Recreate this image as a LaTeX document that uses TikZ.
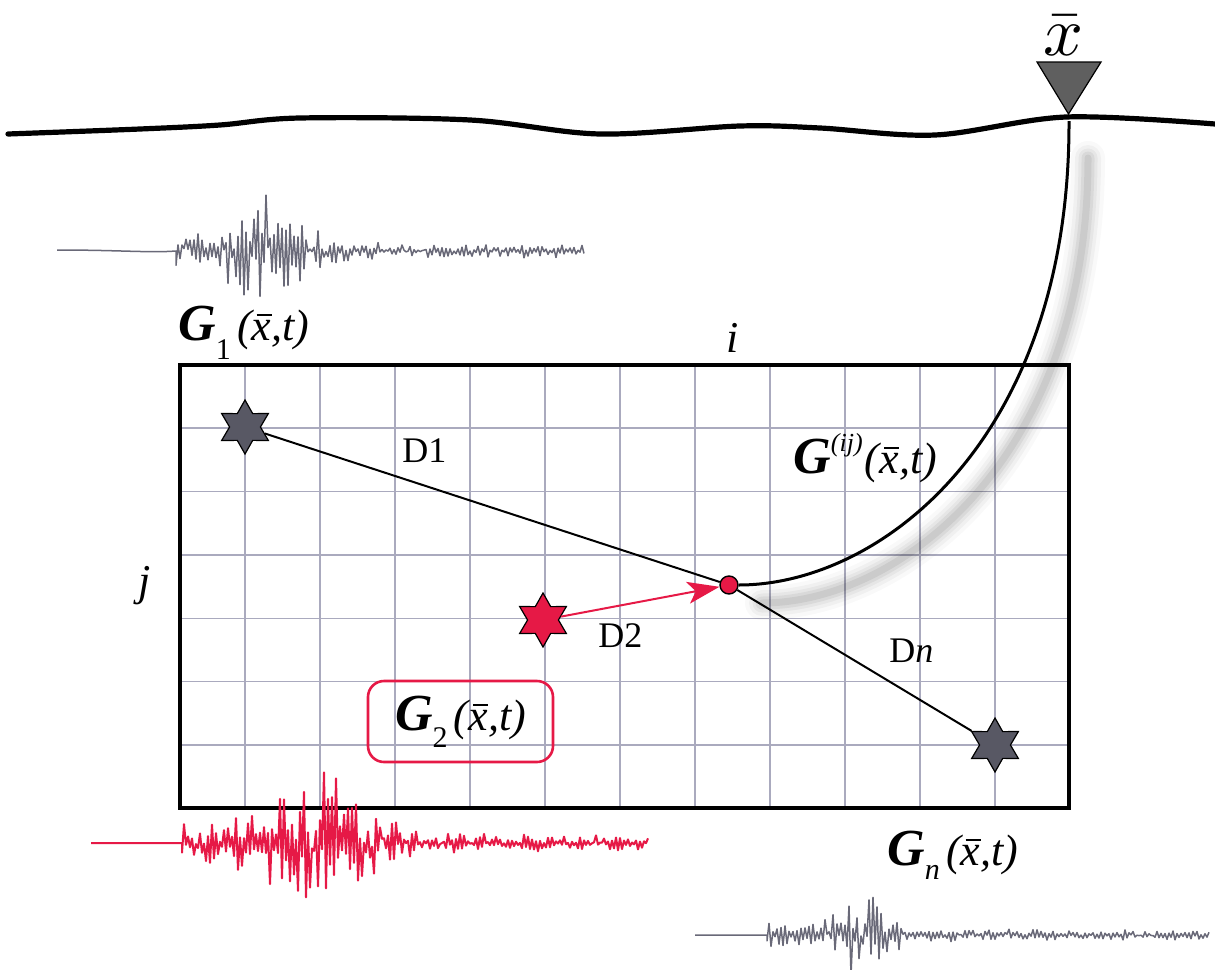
\documentclass[tikz,border=0pt]{standalone}
\usepackage{fontspec}
\setmainfont{Liberation Serif}
\usetikzlibrary{shapes.geometric,arrows.meta}
\definecolor{crim}{RGB}{230,25,70}
\definecolor{gridc}{RGB}{170,170,190}
\definecolor{stargray}{RGB}{88,88,100}
\definecolor{trigray}{RGB}{95,95,95}
\definecolor{seisgray}{RGB}{105,105,120}
\newcommand{\xb}{\leavevmode\rlap{\kern0.11em\raisebox{0.55em}{\rule{0.34em}{0.05em}}}x}
\newcommand{\mkG}[1]{{\fontsize{26}{27}\selectfont\bfseries\itshape G}#1\textit{(\xb,t)}}
\newcommand{\subG}[2][-0.45em]{\raisebox{#1}{\fontsize{15}{15}\selectfont #2}\kern0.14em}
\newcommand{\supG}[1]{\raisebox{0.5em}{\fontsize{13}{13}\selectfont\itshape #1}}
\begin{document}
\begin{tikzpicture}[x=0.5pt,y=-0.5pt,
  gridln/.style={draw=gridc,line width=0.7pt},
  starsh/.style={star,star points=6,star point ratio=1.75,minimum size=27pt,inner sep=0pt,draw=black,line width=0.6pt},
  lab/.style={inner sep=0pt,font=\fontsize{22}{27}\selectfont},
  dlab/.style={inner sep=0pt,anchor=base west,font=\fontsize{18}{22}\selectfont},
  seisg/.style={draw=seisgray,line width=0.75pt,line join=round},
  seisr/.style={draw=crim,line width=1pt,line join=round},
  declare function={
    envA(\x)=5+8*exp(-(\x-176)/150)+40*exp(-((\x-268)/45)^2);
    envB(\x)=6+12*exp(-(\x-182)/150)+50*exp(-((\x-318)/58)^2);
    envC(\x)=4+9*exp(-(\x-767)/120)+40*exp(-((\x-864)/26)^2);
    zig(\x,\o)=cos(90*mod(\x-\o,4))*(0.1+0.9*pow(rnd,1.4))+0.28*rand;
  }]
\useasboundingbox (0,0) rectangle (1215,969);
\pgfmathsetseed{4711}

% ground surface
\draw[line width=2.6pt,line cap=round] plot[smooth,tension=0.55] coordinates {(8,134) (140,129) (220,125) (300,118) (470,120) (600,134) (740,126) (820,128) (935,135) (1066,117) (1215,124)};

% receiver
\coordinate (rcv) at (1069,121);
\draw[fill=trigray,line width=0.6pt] (1037,62) -- (1101,62) -- (1068.5,114) -- cycle;
\node[scale=3.5,inner sep=0pt,anchor=base] (xbar) at (1063,55) {$\bar{x}$};

% grid
\foreach \gx in {245,320,...,995} \draw[gridln] (\gx,365) -- (\gx,808);
\foreach \gy in {428,491.4,554.8,618.2,681.6,745} \draw[gridln] (180,\gy) -- (1069,\gy);

% shadow of ray
\foreach \w/\o in {17/0.025,13/0.035,9.5/0.045,6.5/0.055,3.5/0.065} {
  \draw[line width=\w pt,black,opacity=\o,line cap=round] (762,603) .. controls (900,603) and (1088,458) .. (1088,158);
}
\draw[line width=1.6pt] (180,365) rectangle (1069,808);

% stars and point
\node[starsh,fill=stargray] (s1) at (245,427) {};
\node[starsh,fill=crim] (s2) at (543,620) {};
\node[starsh,fill=stargray] (sn) at (995,745) {};
\node[circle,fill=crim,draw=black,line width=0.7pt,minimum size=9pt,inner sep=0pt] (c) at (729,585) {};

\draw[line width=1pt] (s1) -- (c);
\draw[line width=1pt] (c) -- (sn);
\draw[crim,line width=1pt,-{Stealth[length=16pt,width=11pt,inset=4pt]}] (s2) -- (c);

% ray to receiver
\draw[line width=1.5pt] (c.east) .. controls (880,585) and (1070,440) .. (rcv);

% labels
\node[lab,anchor=base west] (g1) at (178,340) {\mkG{\subG{1}}};
\node[lab,anchor=base west] (gij) at (793,473) {\mkG{\supG{(ij)}\kern0.05em}};
\node[lab,anchor=base west] (gn) at (887,865) {\mkG{\subG[-0.32em]{\itshape n}}};
\node[lab,draw=crim,line width=1.3pt,rounded corners=8pt,minimum width=92.5pt,minimum height=40.5pt] (g2) at (460.5,721.5) {\mkG{\subG[-0.38em]{2}}};
\node[lab,font=\fontsize{22}{26}\selectfont] (ilab) at (733,338) {\textit{i}};
\node[lab,font=\fontsize{22}{26}\selectfont] (jlab) at (145,586) {\textit{j}};
\node[dlab] (d1) at (402,462) {D1};
\node[dlab] (d2) at (598,647) {D2};
\node[dlab] (dn) at (889,662) {D\textit{n}};

% seismograms
\draw[seisg] (57,250) .. controls (120,250) and (150,253) .. (176,251) -- plot[domain=176:584,samples=205] (\x,{251+envA(\x)*zig(\x,176)});
\draw[seisr] (91,843) -- (182,843) -- plot[domain=182:648,samples=234] (\x,{843+envB(\x)*zig(\x,182)});
\draw[seisg] (695,935) -- (767,935) -- plot[domain=767:1209,samples=222] (\x,{935+envC(\x)*zig(\x,767)});
\end{tikzpicture}
\end{document}
